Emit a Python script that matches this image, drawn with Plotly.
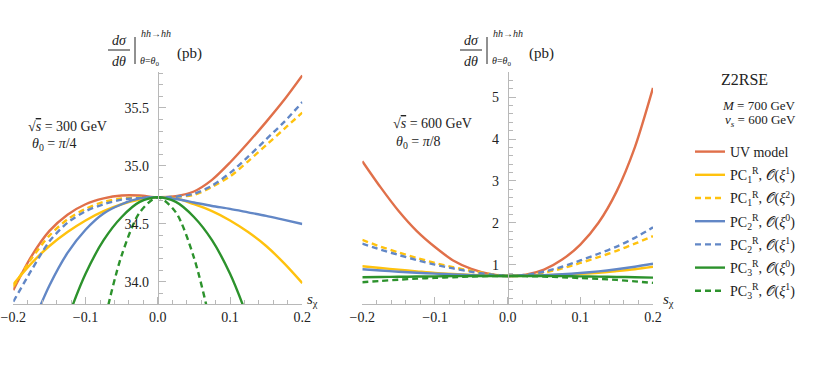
import plotly.graph_objects as go

W, H = 830, 368

s_chi = [-0.2, -0.175, -0.15, -0.125, -0.1, -0.075, -0.05, -0.025, 0.0,
         0.025, 0.05, 0.075, 0.1, 0.125, 0.15, 0.175, 0.2]

# sqrt(s) = 300 GeV, theta0 = pi/4
uv_300 = [33.93, 34.22, 34.44, 34.58, 34.67, 34.72, 34.745, 34.745, 34.73,
          34.74, 34.78, 34.88, 35.03, 35.20, 35.38, 35.57, 35.78]
pc1_xi1_300 = [33.98, 34.16, 34.31, 34.43, 34.53, 34.61, 34.67, 34.71, 34.73,
               34.72, 34.67, 34.61, 34.53, 34.43, 34.31, 34.16, 33.99]
pc1_xi2_300 = [33.96, 34.20, 34.40, 34.54, 34.63, 34.69, 34.72, 34.73, 34.73,
               34.735, 34.75, 34.82, 34.91, 35.04, 35.18, 35.32, 35.46]
pc2_xi0_300 = [33.30, 33.62, 33.97, 34.25, 34.45, 34.59, 34.67, 34.72, 34.73,
               34.715, 34.685, 34.655, 34.63, 34.60, 34.57, 34.535, 34.50]
pc2_xi1_300 = [33.83, 34.10, 34.35, 34.51, 34.61, 34.67, 34.71, 34.725, 34.73,
               34.735, 34.76, 34.83, 34.94, 35.08, 35.23, 35.38, 35.55]
pc3_xi0_300 = [32.05, 32.68, 33.22, 33.68, 34.07, 34.36, 34.56, 34.69, 34.73,
               34.69, 34.56, 34.36, 34.07, 33.68, 33.22, 32.68, 32.05]
pc3_xi1_300 = [None, None, None, None, 32.70, 33.62, 34.23, 34.60, 34.73,
               34.60, 34.21, 33.58, 32.70, None, None, None, None]

# sqrt(s) = 600 GeV, theta0 = pi/8
uv_600 = [3.47, 2.85, 2.28, 1.80, 1.42, 1.10, 0.90, 0.78, 0.73,
          0.76, 0.88, 1.12, 1.48, 2.00, 2.75, 3.80, 5.22]
pc1_xi1_600 = [0.96, 0.92, 0.88, 0.84, 0.80, 0.775, 0.755, 0.74, 0.73,
               0.735, 0.745, 0.76, 0.78, 0.805, 0.845, 0.89, 0.95]
pc1_xi2_600 = [1.59, 1.43, 1.29, 1.16, 1.04, 0.94, 0.85, 0.78, 0.73,
               0.75, 0.81, 0.91, 1.04, 1.18, 1.33, 1.50, 1.68]
pc2_xi0_600 = [0.89, 0.86, 0.83, 0.805, 0.785, 0.765, 0.75, 0.738, 0.73,
               0.74, 0.75, 0.77, 0.80, 0.84, 0.89, 0.95, 1.02]
pc2_xi1_600 = [1.50, 1.36, 1.23, 1.11, 1.00, 0.91, 0.83, 0.77, 0.73,
               0.755, 0.83, 0.95, 1.10, 1.26, 1.43, 1.64, 1.89]
pc3_xi0_600 = [0.70, 0.705, 0.71, 0.715, 0.72, 0.725, 0.728, 0.73, 0.73,
               0.73, 0.728, 0.725, 0.72, 0.713, 0.706, 0.70, 0.69]
pc3_xi1_600 = [0.58, 0.61, 0.64, 0.665, 0.685, 0.70, 0.715, 0.725, 0.73,
               0.725, 0.715, 0.70, 0.68, 0.66, 0.635, 0.60, 0.565]

names = ["UV model",
         "PC<sub>1</sub><sup>R</sup>, 𝒪(<i>ξ</i><sup>1</sup>)",
         "PC<sub>1</sub><sup>R</sup>, 𝒪(<i>ξ</i><sup>2</sup>)",
         "PC<sub>2</sub><sup>R</sup>, 𝒪(<i>ξ</i><sup>0</sup>)",
         "PC<sub>2</sub><sup>R</sup>, 𝒪(<i>ξ</i><sup>1</sup>)",
         "PC<sub>3</sub><sup>R</sup>, 𝒪(<i>ξ</i><sup>0</sup>)",
         "PC<sub>3</sub><sup>R</sup>, 𝒪(<i>ξ</i><sup>1</sup>)"]
left_series = [uv_300, pc1_xi1_300, pc1_xi2_300, pc2_xi0_300, pc2_xi1_300, pc3_xi0_300, pc3_xi1_300]
right_series = [uv_600, pc1_xi1_600, pc1_xi2_600, pc2_xi0_600, pc2_xi1_600, pc3_xi0_600, pc3_xi1_600]

colors = ["#e0704a", "#ffc20e", "#ffc20e", "#6287c6", "#6287c6", "#2c922c", "#2c922c"]
dashes = ["solid", "solid", "6px,4px", "solid", "6px,4px", "solid", "6px,4px"]

SERIF = "Liberation Serif, DejaVu Serif, serif"
AX = "#b8b8b8"

fig = go.Figure()
for i in range(len(names)):
    fig.add_trace(go.Scatter(x=s_chi, y=left_series[i], mode="lines", name=names[i],
                             line=dict(color=colors[i], width=2.4, dash=dashes[i],
                                       shape="spline", smoothing=0.8),
                             xaxis="x", yaxis="y", legendgroup=str(i)))
    fig.add_trace(go.Scatter(x=s_chi, y=right_series[i], mode="lines", name=names[i],
                             line=dict(color=colors[i], width=2.4, dash=dashes[i],
                                       shape="spline", smoothing=0.8),
                             xaxis="x2", yaxis="y2", legendgroup=str(i), showlegend=False))


def P(x, y):
    return x / W, 1 - y / H


def axis_style(**kw):
    d = dict(showline=True, linecolor=AX, linewidth=1, ticks="inside", ticklen=7,
             tickcolor=AX, showgrid=False, zeroline=False, automargin=False,
             tickfont=dict(family=SERIF, size=14, color="#222"))
    d.update(kw)
    return d


ydom = [1 - 304 / H, 1 - 72 / H]
fig.update_layout(
    template="none",
    width=W, height=H, margin=dict(l=0, r=0, t=0, b=0),
    paper_bgcolor="white", plot_bgcolor="white",
    font=dict(family=SERIF, size=14, color="#222"),
    xaxis=axis_style(domain=[13.3 / W, 302.3 / W], range=[-0.2, 0.2], dtick=0.1, tick0=0,
                     tickformat=".1f", anchor="y",
                     minor=dict(dtick=0.02, ticks="inside", ticklen=4, tickcolor=AX)),
    yaxis=axis_style(domain=ydom, range=[33.81, 35.81], dtick=0.5, tick0=34, tickformat=".1f",
                     anchor="free", position=157.7 / W, ticklabelstandoff=6,
                     minor=dict(dtick=0.1, ticks="inside", ticklen=4, tickcolor=AX)),
    xaxis2=axis_style(domain=[362.3 / W, 653 / W], range=[-0.2, 0.2], dtick=0.1, tick0=0,
                      tickformat=".1f", anchor="y2",
                      minor=dict(dtick=0.02, ticks="inside", ticklen=4, tickcolor=AX)),
    yaxis2=axis_style(domain=ydom, range=[0.06, 5.6], dtick=1, tick0=0,
                      anchor="free", position=507.7 / W, ticklabelstandoff=6,
                      minor=dict(dtick=0.2, ticks="inside", ticklen=4, tickcolor=AX)),
    showlegend=True,
    legend=dict(x=P(690, 0)[0], y=P(0, 136)[1], xanchor="left", yanchor="top",
                font=dict(family=SERIF, size=14, color="#222"), tracegroupgap=2,
                itemwidth=30, bgcolor="rgba(0,0,0,0)", borderwidth=0),
)

ann = []
shapes = []


def text(x, y, t, size=14, xanchor="center"):
    ann.append(dict(x=P(x, y)[0], y=P(x, y)[1], xref="paper", yref="paper", text=t,
                    showarrow=False, xanchor=xanchor, yanchor="middle",
                    font=dict(family=SERIF, size=size, color="#222")))


# y-axis titles (fraction built from pieces), one per panel
for dx in (0, 352):
    text(119 + dx, 40, "<i>dσ</i>", 14)
    text(119 + dx, 61, "<i>dθ</i>", 14)
    shapes.append(dict(type="line", xref="paper", yref="paper",
                       x0=P(108 + dx, 0)[0], x1=P(130 + dx, 0)[0],
                       y0=P(0, 50)[1], y1=P(0, 50)[1], line=dict(color="#222", width=1)))
    shapes.append(dict(type="line", xref="paper", yref="paper",
                       x0=P(135 + dx, 0)[0], x1=P(135 + dx, 0)[0],
                       y0=P(0, 37)[1], y1=P(0, 64)[1], line=dict(color="#222", width=1)))
    text(139 + dx, 33, "<i>hh</i>→<i>hh</i>", 10, "left")
    text(138 + dx, 61, "<i>θ</i>=<i>θ</i><sub>0</sub>", 10, "left")
    text(175 + dx, 53, "(pb)", 15, "left")

text(305, 300, "<i>s</i><sub>χ</sub>", 15, "left")
text(661, 300, "<i>s</i><sub>χ</sub>", 15, "left")

text(26, 127, "√<span style='text-decoration:overline'><i>s</i></span> = 300 GeV", 14, "left")
text(30, 144, "<i>θ</i><sub>0</sub> = <i>π</i>/4", 14, "left")
text(391, 123, "√<span style='text-decoration:overline'><i>s</i></span> = 600 GeV", 14, "left")
text(394, 142, "<i>θ</i><sub>0</sub> = <i>π</i>/8", 14, "left")

text(744, 80, "Z2RSE", 16)
text(798, 105, "<i>M</i> = 700 GeV", 13, "right")
text(798, 121, "<i>v</i><sub><i>s</i></sub> = 600 GeV", 13, "right")

fig.update_layout(annotations=ann, shapes=shapes)
fig.write_html("out.html", config={"displayModeBar": False},
               post_script="document.body.style.margin='0px';")
